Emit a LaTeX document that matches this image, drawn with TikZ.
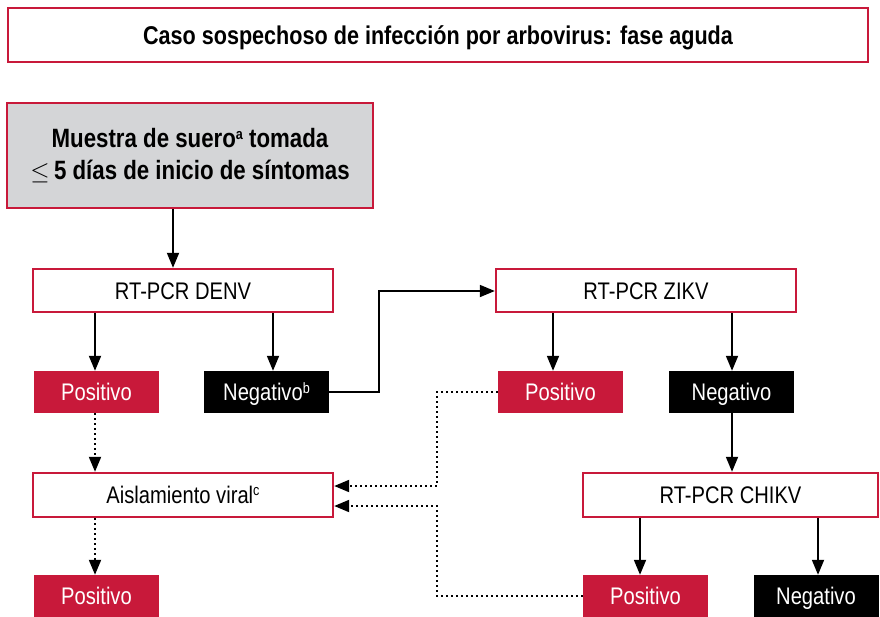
\documentclass[tikz,border=0pt]{standalone}
\usepackage{fontspec}
\setmainfont{Liberation Sans}[FakeStretch=0.84]
\usetikzlibrary{arrows.meta}
\definecolor{cred}{HTML}{C8193A}
\definecolor{cgray}{HTML}{D4D5D7}
\newcommand\supsm[2]{\raisebox{#1}{\fontsize{15}{15}\selectfont #2}}
\begin{document}
\begin{tikzpicture}[x=1pt,y=-1pt,
  txt/.style={inner sep=0pt, text height=18pt, text depth=1pt, font=\fontsize{24}{28}\selectfont},
  redbox/.style={txt, draw=cred, line width=2.4pt, fill=white, text=black},
  posbox/.style={txt, fill=cred, text=white, minimum width=125pt, minimum height=42pt},
  negbox/.style={txt, fill=black, text=white, minimum width=125pt, minimum height=42pt},
  arr/.style={line width=1.8pt, -{Triangle[length=15pt,width=12pt]}},
  dotarr/.style={line width=2pt, dash pattern=on 2pt off 3pt, -{Triangle[length=15pt,width=12pt]}}]
\useasboundingbox (0,0) rectangle (880,616);
\node[redbox, minimum width=860pt, minimum height=54pt, text height=19pt, text depth=0pt, font=\fontsize{25.7}{30}\selectfont\bfseries] (title) at (438,35) {Caso sospechoso de infección por arbovirus: fase aguda};
\node[draw=cred, line width=2.4pt, fill=cgray, inner sep=0pt, minimum width=366pt, minimum height=105pt, align=center, font=\fontsize{26.5}{32}\selectfont\bfseries] (muestra) at (190,155.5) {Muestra de suero\supsm{8pt}{a} tomada\\$\leq$\,5 días de inicio de síntomas};
\node[redbox, minimum width=300pt, minimum height=43pt] (denv) at (183,290.5) {RT-PCR DENV};
\node[posbox] (posD) at (96.5,392) {Positivo};
\node[negbox] (negD) at (266.5,392) {Negativo\supsm{7pt}{b}};
\node[redbox, minimum width=300pt, minimum height=43pt] (zikv) at (646,290.5) {RT-PCR ZIKV};
\node[posbox] (posZ) at (560.5,392) {Positivo};
\node[negbox] (negZ) at (731.5,392) {Negativo};
\node[redbox, minimum width=300pt, minimum height=44pt] (aisl) at (183,495) {Aislamiento viral\supsm{8pt}{c}};
\node[redbox, minimum width=295pt, minimum height=44pt] (chikv) at (730.5,495) {RT-PCR CHIKV};
\node[posbox] (posB) at (96.5,596) {Positivo};
\node[posbox] (posC) at (645.5,596) {Positivo};
\node[negbox] (negC) at (816,596) {Negativo};
% x guides
\coordinate (x173) at (173,0);
\coordinate (x95) at (95,0);
\coordinate (x273) at (273,0);
\coordinate (x553) at (553,0);
\coordinate (x732) at (732,0);
\coordinate (x640) at (640,0);
\coordinate (x818) at (818,0);
\coordinate (kA) at (379,392);
\coordinate (kB) at (379,291);
\coordinate (dA) at (437,392);
\coordinate (dB) at (437,486);
\coordinate (dC) at (437,596);
\coordinate (dD) at (437,506);
\coordinate (y486) at (0,486);
\coordinate (y506) at (0,506);
% solid arrows
\draw[arr] (muestra.south -| x173) -- (denv.north -| x173);
\draw[arr] (denv.south -| x95) -- (posD.north -| x95);
\draw[arr] (denv.south -| x273) -- (negD.north -| x273);
\draw[arr] (negD.east) -- (kA) -- (kB) -- (zikv.west |- kB);
\draw[arr] (zikv.south -| x553) -- (posZ.north -| x553);
\draw[arr] (zikv.south -| x732) -- (negZ.north -| x732);
\draw[arr] (negZ.south -| x732) -- (chikv.north -| x732);
\draw[arr] (chikv.south -| x640) -- (posC.north -| x640);
\draw[arr] (chikv.south -| x818) -- (negC.north -| x818);
% dotted
\draw[dotarr] (posD.south -| x95) -- (aisl.north -| x95);
\draw[dotarr] (aisl.south -| x95) -- (posB.north -| x95);
\draw[dotarr] (posZ.west) -- (dA) -- (dB) -- (aisl.east |- y486);
\draw[dotarr] (posC.west) -- (dC) -- (dD) -- (aisl.east |- y506);
\end{tikzpicture}
\end{document}
